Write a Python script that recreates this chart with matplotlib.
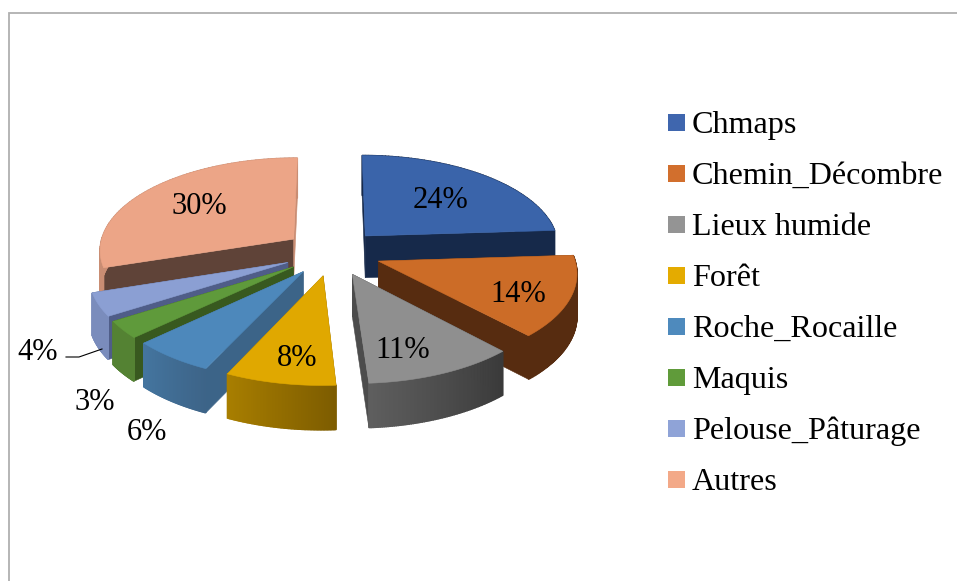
import numpy as np
import matplotlib
matplotlib.use("Agg")
import matplotlib.pyplot as plt
from matplotlib.colors import to_rgb
from matplotlib.patches import Rectangle

categories = ["Chmaps", "Chemin_Décombre", "Lieux humide", "Forêt",
              "Roche_Rocaille", "Maquis", "Pelouse_Pâturage", "Autres"]
values = [24, 14, 11, 8, 6, 3, 4, 30]

top_colors = ["#3a64aa", "#cc6c27", "#8f8f8f", "#e0a800",
              "#4d88bb", "#5f9a3b", "#8b9fd3", "#eca587"]
legend_colors = ["#3f66ae", "#d26f2d", "#949494", "#e4ab00",
                 "#4e8abd", "#609b3a", "#8fa3d7", "#f3a988"]
cut_start = ["#16294a", "#572c10", "#3a3a3a", "#7d5c00",
             "#3c6488", "#38591f", "#4f5d88", "#5f4338"]
cut_end = ["#16294a", "#572c10", "#4c4c4c", "#8a6700",
           "#3c6488", "#38591f", "#4f5d88", "#c98d73"]
wall_start = ["#16294a", "#572c10", "#3a3a3a", "#7d5c00",
              "#3d6488", "#548233", "#7a8cbc", "#c98d73"]
wall_end = ["#16294a", "#572c10", "#5e5e5e", "#a87e00",
            "#44759f", "#548233", "#7a8cbc", "#c98d73"]

# back to front
draw_order = [7, 0, 1, 6, 5, 4, 3, 2]

# pie projection, excel style 3d with a bit of perspective
cx, cy = 332.5, 252.5
rx, ry = 195, 92.5
persp = 0.107
explode = 0.25
depth = 42


def project(u, v):
    d = 1 - persp * v
    return cx + rx * u / d, cy + ry * v / d, depth / d ** 0.4


def quad(ax, x0, y0, h0, x1, y1, h1, color, lw=0.4):
    ax.fill([x0, x1, x1, x0], [y0, y1, y1 + h1, y0 + h0], facecolor=color,
            edgecolor=color, linewidth=lw)


def draw_slice(ax, i, t0, t1):
    mid = (t0 + t1) / 2
    ou, ov = explode * np.sin(mid), -explode * np.cos(mid)
    t = np.linspace(t0, t1, 80)
    x, y, h = project(ou + np.sin(t), ov - np.cos(t))
    ax_, ay_, ah_ = project(ou, ov)

    quad(ax, ax_, ay_, ah_, x[0], y[0], h[0], cut_start[i])
    quad(ax, ax_, ay_, ah_, x[-1], y[-1], h[-1], cut_end[i])

    c0, c1 = np.array(to_rgb(wall_start[i])), np.array(to_rgb(wall_end[i]))
    for k in range(len(t) - 1):
        col = c0 + (c1 - c0) * k / (len(t) - 2)
        quad(ax, x[k], y[k], h[k], x[k + 1], y[k + 1], h[k + 1], tuple(col), lw=1.0)

    ax.fill(np.r_[ax_, x], np.r_[ay_, y], facecolor=top_colors[i],
            edgecolor=top_colors[i], linewidth=0.4)


def main():
    plt.rcParams["font.family"] = ["Liberation Serif", "DejaVu Serif"]
    fig = plt.figure(figsize=(9.57, 5.81), dpi=100)
    ax = fig.add_axes([0, 0, 1, 1])
    ax.set_xlim(0, 957)
    ax.set_ylim(581, 0)
    ax.axis("off")

    # chart frame, cut off on the right and at the bottom
    ax.plot([9, 9, 957], [581, 13, 13], color="#b0b0b0", lw=1.3,
            solid_joinstyle="miter")

    edges = np.r_[0, np.cumsum(values)] / sum(values) * 2 * np.pi
    for i in draw_order:
        draw_slice(ax, i, edges[i], edges[i + 1])

    # percent labels
    label_xy = [(440, 200), (518, 294), (403, 350), (297, 359),
                (147, 433), (95, 402), (38, 353), (199, 206)]
    for val, (lx, ly) in zip(values, label_xy):
        ax.text(lx, ly, f"{val}%", fontsize=22, ha="center", va="center",
                color="black")
    ax.plot([66, 79, 102], [357, 357, 349], color="black", lw=0.8)

    # legend
    for i, name in enumerate(categories):
        ly = 122.5 + i * 51
        ax.add_patch(Rectangle((668, ly - 8.5), 17, 17, color=legend_colors[i], lw=0))
        ax.text(692, ly + 3, name, fontsize=23.1, ha="left", va="center", color="black")

    fig.savefig("out.png", dpi=100)


main()
